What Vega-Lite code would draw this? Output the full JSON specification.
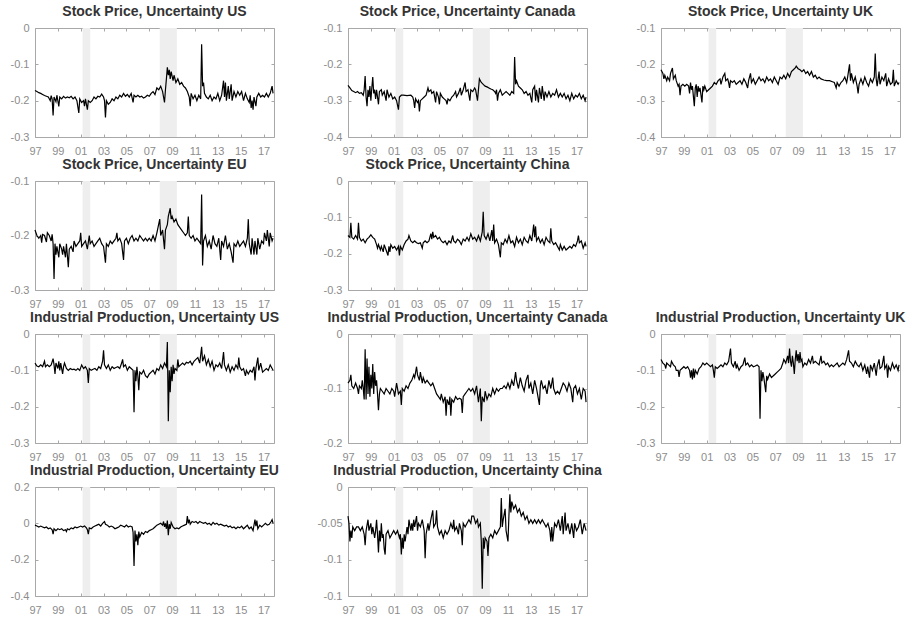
{
"$schema":"https://vega.github.io/schema/vega-lite/v6.json",
"background":"white",
"padding":{"left":10,"top":5,"right":5,"bottom":5},
"config":{
 "view":{"stroke":null},
 "font":"Liberation Sans",
 "locale":{"number":{"decimal":".","thousands":",","grouping":[3],"currency":["$",""],"minus":"-"}},
 "axis":{"grid":false,"domainColor":"#a8a8a8","tickColor":"#a8a8a8","tickSize":-3,"labelColor":"#8c8c8c","labelFontSize":11,"labelFont":"Liberation Sans","labelOverlap":false,"labelFlush":false},
 "title":{"fontSize":14,"fontWeight":"bold","color":"#333333","offset":3,"frame":"group","anchor":"middle","font":"Liberation Sans"},
 "line":{"color":"#000000","strokeWidth":1.2},
 "rect":{"color":"#eeeeee"}
},
"datasets":{
"rec":[{"a":50,"b":58},{"a":131,"b":149}],
"spus":[{"m":0,"v":-0.172},{"m":2,"v":-0.175},{"m":4,"v":-0.178},{"m":6,"v":-0.18},{"m":8,"v":-0.183},{"m":10,"v":-0.186},{"m":12,"v":-0.188},{"m":14,"v":-0.19},{"m":16,"v":-0.2},{"m":17,"v":-0.186},{"m":18,"v":-0.196},{"m":19,"v":-0.241},{"m":20,"v":-0.19},{"m":22,"v":-0.203},{"m":23,"v":-0.185},{"m":25,"v":-0.216},{"m":26,"v":-0.19},{"m":28,"v":-0.195},{"m":30,"v":-0.188},{"m":32,"v":-0.193},{"m":34,"v":-0.19},{"m":36,"v":-0.192},{"m":38,"v":-0.188},{"m":40,"v":-0.195},{"m":42,"v":-0.19},{"m":44,"v":-0.2},{"m":46,"v":-0.234},{"m":47,"v":-0.195},{"m":49,"v":-0.205},{"m":51,"v":-0.2},{"m":52,"v":-0.215},{"m":53,"v":-0.195},{"m":55,"v":-0.225},{"m":56,"v":-0.2},{"m":58,"v":-0.205},{"m":60,"v":-0.2},{"m":62,"v":-0.19},{"m":64,"v":-0.195},{"m":66,"v":-0.188},{"m":68,"v":-0.19},{"m":70,"v":-0.182},{"m":72,"v":-0.19},{"m":73,"v":-0.2},{"m":74,"v":-0.246},{"m":75,"v":-0.2},{"m":77,"v":-0.21},{"m":79,"v":-0.205},{"m":81,"v":-0.195},{"m":83,"v":-0.2},{"m":85,"v":-0.19},{"m":87,"v":-0.195},{"m":89,"v":-0.185},{"m":91,"v":-0.19},{"m":93,"v":-0.18},{"m":95,"v":-0.188},{"m":97,"v":-0.183},{"m":99,"v":-0.19},{"m":101,"v":-0.18},{"m":103,"v":-0.205},{"m":104,"v":-0.185},{"m":106,"v":-0.19},{"m":108,"v":-0.185},{"m":110,"v":-0.19},{"m":112,"v":-0.188},{"m":114,"v":-0.193},{"m":116,"v":-0.19},{"m":118,"v":-0.185},{"m":120,"v":-0.188},{"m":122,"v":-0.18},{"m":124,"v":-0.175},{"m":126,"v":-0.183},{"m":128,"v":-0.165},{"m":130,"v":-0.17},{"m":132,"v":-0.16},{"m":134,"v":-0.175},{"m":136,"v":-0.205},{"m":137,"v":-0.17},{"m":138,"v":-0.14},{"m":139,"v":-0.108},{"m":140,"v":-0.13},{"m":141,"v":-0.115},{"m":142,"v":-0.14},{"m":143,"v":-0.12},{"m":145,"v":-0.145},{"m":146,"v":-0.13},{"m":148,"v":-0.15},{"m":150,"v":-0.14},{"m":152,"v":-0.155},{"m":154,"v":-0.15},{"m":156,"v":-0.16},{"m":158,"v":-0.165},{"m":160,"v":-0.175},{"m":162,"v":-0.19},{"m":163,"v":-0.215},{"m":164,"v":-0.18},{"m":166,"v":-0.195},{"m":168,"v":-0.185},{"m":170,"v":-0.2},{"m":172,"v":-0.185},{"m":174,"v":-0.195},{"m":175,"v":-0.045},{"m":176,"v":-0.16},{"m":177,"v":-0.15},{"m":178,"v":-0.18},{"m":180,"v":-0.19},{"m":182,"v":-0.195},{"m":184,"v":-0.185},{"m":186,"v":-0.2},{"m":188,"v":-0.19},{"m":190,"v":-0.195},{"m":192,"v":-0.18},{"m":194,"v":-0.2},{"m":196,"v":-0.185},{"m":198,"v":-0.145},{"m":199,"v":-0.19},{"m":200,"v":-0.15},{"m":201,"v":-0.2},{"m":203,"v":-0.16},{"m":204,"v":-0.195},{"m":206,"v":-0.155},{"m":207,"v":-0.2},{"m":209,"v":-0.175},{"m":211,"v":-0.19},{"m":213,"v":-0.175},{"m":215,"v":-0.185},{"m":217,"v":-0.175},{"m":219,"v":-0.2},{"m":221,"v":-0.18},{"m":223,"v":-0.195},{"m":225,"v":-0.205},{"m":226,"v":-0.185},{"m":227,"v":-0.22},{"m":228,"v":-0.2},{"m":229,"v":-0.225},{"m":230,"v":-0.19},{"m":232,"v":-0.215},{"m":233,"v":-0.19},{"m":235,"v":-0.18},{"m":237,"v":-0.19},{"m":239,"v":-0.185},{"m":241,"v":-0.19},{"m":243,"v":-0.18},{"m":245,"v":-0.19},{"m":247,"v":-0.18},{"m":249,"v":-0.16},{"m":250,"v":-0.18}],
"spca":[{"m":0,"v":-0.258},{"m":2,"v":-0.265},{"m":4,"v":-0.272},{"m":6,"v":-0.275},{"m":8,"v":-0.278},{"m":10,"v":-0.275},{"m":12,"v":-0.28},{"m":14,"v":-0.278},{"m":16,"v":-0.285},{"m":17,"v":-0.27},{"m":18,"v":-0.232},{"m":19,"v":-0.29},{"m":20,"v":-0.315},{"m":21,"v":-0.27},{"m":22,"v":-0.29},{"m":23,"v":-0.26},{"m":24,"v":-0.3},{"m":25,"v":-0.265},{"m":26,"v":-0.235},{"m":27,"v":-0.28},{"m":28,"v":-0.27},{"m":29,"v":-0.295},{"m":30,"v":-0.27},{"m":32,"v":-0.31},{"m":33,"v":-0.275},{"m":35,"v":-0.27},{"m":36,"v":-0.285},{"m":38,"v":-0.275},{"m":40,"v":-0.3},{"m":41,"v":-0.27},{"m":43,"v":-0.29},{"m":45,"v":-0.28},{"m":47,"v":-0.295},{"m":49,"v":-0.29},{"m":51,"v":-0.3},{"m":53,"v":-0.325},{"m":54,"v":-0.29},{"m":56,"v":-0.285},{"m":58,"v":-0.285},{"m":62,"v":-0.286},{"m":66,"v":-0.285},{"m":68,"v":-0.29},{"m":69,"v":-0.3},{"m":70,"v":-0.32},{"m":71,"v":-0.295},{"m":73,"v":-0.305},{"m":74,"v":-0.3},{"m":75,"v":-0.33},{"m":76,"v":-0.3},{"m":78,"v":-0.295},{"m":80,"v":-0.29},{"m":82,"v":-0.285},{"m":84,"v":-0.265},{"m":85,"v":-0.275},{"m":87,"v":-0.27},{"m":88,"v":-0.28},{"m":90,"v":-0.275},{"m":92,"v":-0.305},{"m":93,"v":-0.275},{"m":95,"v":-0.29},{"m":96,"v":-0.31},{"m":97,"v":-0.28},{"m":99,"v":-0.29},{"m":101,"v":-0.295},{"m":103,"v":-0.3},{"m":104,"v":-0.31},{"m":105,"v":-0.295},{"m":107,"v":-0.3},{"m":109,"v":-0.29},{"m":111,"v":-0.285},{"m":113,"v":-0.275},{"m":114,"v":-0.29},{"m":116,"v":-0.28},{"m":118,"v":-0.265},{"m":119,"v":-0.285},{"m":121,"v":-0.27},{"m":123,"v":-0.25},{"m":124,"v":-0.275},{"m":126,"v":-0.27},{"m":127,"v":-0.285},{"m":128,"v":-0.3},{"m":129,"v":-0.27},{"m":131,"v":-0.275},{"m":133,"v":-0.265},{"m":134,"v":-0.27},{"m":136,"v":-0.3},{"m":138,"v":-0.24},{"m":140,"v":-0.25},{"m":142,"v":-0.255},{"m":144,"v":-0.26},{"m":146,"v":-0.262},{"m":148,"v":-0.265},{"m":150,"v":-0.268},{"m":152,"v":-0.27},{"m":154,"v":-0.275},{"m":155,"v":-0.28},{"m":156,"v":-0.27},{"m":157,"v":-0.3},{"m":158,"v":-0.28},{"m":160,"v":-0.27},{"m":162,"v":-0.285},{"m":164,"v":-0.28},{"m":166,"v":-0.275},{"m":168,"v":-0.28},{"m":170,"v":-0.285},{"m":172,"v":-0.275},{"m":174,"v":-0.28},{"m":175,"v":-0.18},{"m":176,"v":-0.255},{"m":177,"v":-0.245},{"m":179,"v":-0.26},{"m":181,"v":-0.265},{"m":183,"v":-0.27},{"m":185,"v":-0.28},{"m":187,"v":-0.275},{"m":189,"v":-0.285},{"m":191,"v":-0.28},{"m":193,"v":-0.305},{"m":194,"v":-0.27},{"m":196,"v":-0.26},{"m":197,"v":-0.3},{"m":198,"v":-0.27},{"m":200,"v":-0.305},{"m":201,"v":-0.265},{"m":203,"v":-0.295},{"m":204,"v":-0.26},{"m":206,"v":-0.3},{"m":207,"v":-0.275},{"m":209,"v":-0.29},{"m":211,"v":-0.275},{"m":213,"v":-0.29},{"m":215,"v":-0.28},{"m":217,"v":-0.285},{"m":219,"v":-0.27},{"m":221,"v":-0.29},{"m":223,"v":-0.28},{"m":225,"v":-0.29},{"m":227,"v":-0.28},{"m":229,"v":-0.295},{"m":231,"v":-0.285},{"m":233,"v":-0.3},{"m":235,"v":-0.28},{"m":237,"v":-0.295},{"m":239,"v":-0.285},{"m":241,"v":-0.29},{"m":243,"v":-0.28},{"m":245,"v":-0.295},{"m":247,"v":-0.285},{"m":249,"v":-0.3},{"m":250,"v":-0.29}],
"spuk":[{"m":0,"v":-0.215},{"m":2,"v":-0.225},{"m":3,"v":-0.24},{"m":4,"v":-0.23},{"m":6,"v":-0.245},{"m":7,"v":-0.235},{"m":9,"v":-0.245},{"m":10,"v":-0.225},{"m":12,"v":-0.21},{"m":13,"v":-0.24},{"m":15,"v":-0.23},{"m":16,"v":-0.245},{"m":18,"v":-0.26},{"m":19,"v":-0.255},{"m":20,"v":-0.285},{"m":21,"v":-0.26},{"m":23,"v":-0.255},{"m":25,"v":-0.26},{"m":27,"v":-0.255},{"m":29,"v":-0.26},{"m":30,"v":-0.28},{"m":31,"v":-0.25},{"m":32,"v":-0.27},{"m":33,"v":-0.26},{"m":35,"v":-0.315},{"m":36,"v":-0.265},{"m":37,"v":-0.255},{"m":38,"v":-0.29},{"m":39,"v":-0.26},{"m":40,"v":-0.275},{"m":41,"v":-0.265},{"m":43,"v":-0.305},{"m":44,"v":-0.26},{"m":45,"v":-0.27},{"m":46,"v":-0.26},{"m":48,"v":-0.275},{"m":50,"v":-0.27},{"m":52,"v":-0.265},{"m":54,"v":-0.26},{"m":56,"v":-0.25},{"m":58,"v":-0.255},{"m":60,"v":-0.245},{"m":62,"v":-0.24},{"m":63,"v":-0.255},{"m":65,"v":-0.235},{"m":67,"v":-0.225},{"m":68,"v":-0.245},{"m":70,"v":-0.24},{"m":71,"v":-0.25},{"m":72,"v":-0.265},{"m":73,"v":-0.245},{"m":75,"v":-0.25},{"m":77,"v":-0.245},{"m":79,"v":-0.255},{"m":81,"v":-0.25},{"m":83,"v":-0.245},{"m":85,"v":-0.255},{"m":87,"v":-0.24},{"m":89,"v":-0.25},{"m":91,"v":-0.265},{"m":92,"v":-0.245},{"m":94,"v":-0.225},{"m":95,"v":-0.25},{"m":97,"v":-0.24},{"m":99,"v":-0.255},{"m":101,"v":-0.245},{"m":103,"v":-0.235},{"m":105,"v":-0.245},{"m":107,"v":-0.24},{"m":109,"v":-0.25},{"m":111,"v":-0.235},{"m":113,"v":-0.245},{"m":115,"v":-0.24},{"m":117,"v":-0.25},{"m":119,"v":-0.235},{"m":121,"v":-0.245},{"m":123,"v":-0.255},{"m":125,"v":-0.235},{"m":127,"v":-0.24},{"m":129,"v":-0.23},{"m":131,"v":-0.24},{"m":133,"v":-0.225},{"m":135,"v":-0.235},{"m":137,"v":-0.22},{"m":139,"v":-0.215},{"m":141,"v":-0.21},{"m":142,"v":-0.205},{"m":144,"v":-0.212},{"m":146,"v":-0.215},{"m":148,"v":-0.22},{"m":150,"v":-0.215},{"m":152,"v":-0.225},{"m":154,"v":-0.22},{"m":156,"v":-0.23},{"m":158,"v":-0.22},{"m":160,"v":-0.235},{"m":162,"v":-0.23},{"m":164,"v":-0.24},{"m":166,"v":-0.235},{"m":168,"v":-0.24},{"m":171,"v":-0.243},{"m":174,"v":-0.245},{"m":177,"v":-0.245},{"m":180,"v":-0.248},{"m":182,"v":-0.25},{"m":184,"v":-0.265},{"m":185,"v":-0.25},{"m":187,"v":-0.26},{"m":189,"v":-0.25},{"m":191,"v":-0.245},{"m":193,"v":-0.235},{"m":195,"v":-0.25},{"m":196,"v":-0.235},{"m":198,"v":-0.2},{"m":199,"v":-0.245},{"m":200,"v":-0.225},{"m":202,"v":-0.25},{"m":204,"v":-0.235},{"m":206,"v":-0.26},{"m":207,"v":-0.28},{"m":208,"v":-0.255},{"m":210,"v":-0.24},{"m":212,"v":-0.255},{"m":214,"v":-0.235},{"m":216,"v":-0.25},{"m":218,"v":-0.26},{"m":220,"v":-0.24},{"m":222,"v":-0.25},{"m":224,"v":-0.235},{"m":225,"v":-0.17},{"m":226,"v":-0.24},{"m":227,"v":-0.26},{"m":229,"v":-0.22},{"m":230,"v":-0.255},{"m":232,"v":-0.235},{"m":234,"v":-0.245},{"m":236,"v":-0.225},{"m":237,"v":-0.26},{"m":239,"v":-0.24},{"m":241,"v":-0.255},{"m":243,"v":-0.25},{"m":244,"v":-0.215},{"m":245,"v":-0.26},{"m":247,"v":-0.245},{"m":249,"v":-0.255},{"m":250,"v":-0.25}],
"speu":[{"m":0,"v":-0.19},{"m":2,"v":-0.2},{"m":4,"v":-0.205},{"m":6,"v":-0.2},{"m":7,"v":-0.213},{"m":8,"v":-0.198},{"m":10,"v":-0.2},{"m":12,"v":-0.212},{"m":13,"v":-0.195},{"m":15,"v":-0.2},{"m":17,"v":-0.21},{"m":18,"v":-0.198},{"m":19,"v":-0.215},{"m":20,"v":-0.28},{"m":21,"v":-0.215},{"m":22,"v":-0.235},{"m":23,"v":-0.22},{"m":25,"v":-0.24},{"m":26,"v":-0.215},{"m":28,"v":-0.225},{"m":29,"v":-0.235},{"m":30,"v":-0.22},{"m":32,"v":-0.24},{"m":33,"v":-0.215},{"m":35,"v":-0.258},{"m":36,"v":-0.225},{"m":38,"v":-0.22},{"m":40,"v":-0.23},{"m":41,"v":-0.21},{"m":43,"v":-0.22},{"m":45,"v":-0.215},{"m":47,"v":-0.21},{"m":48,"v":-0.195},{"m":49,"v":-0.22},{"m":51,"v":-0.215},{"m":53,"v":-0.21},{"m":55,"v":-0.225},{"m":57,"v":-0.2},{"m":58,"v":-0.215},{"m":60,"v":-0.21},{"m":62,"v":-0.22},{"m":64,"v":-0.215},{"m":66,"v":-0.21},{"m":68,"v":-0.205},{"m":70,"v":-0.215},{"m":72,"v":-0.22},{"m":74,"v":-0.25},{"m":75,"v":-0.215},{"m":77,"v":-0.22},{"m":79,"v":-0.21},{"m":81,"v":-0.215},{"m":83,"v":-0.21},{"m":85,"v":-0.205},{"m":86,"v":-0.195},{"m":87,"v":-0.21},{"m":89,"v":-0.205},{"m":91,"v":-0.215},{"m":93,"v":-0.245},{"m":94,"v":-0.21},{"m":96,"v":-0.205},{"m":98,"v":-0.215},{"m":100,"v":-0.205},{"m":102,"v":-0.2},{"m":104,"v":-0.21},{"m":106,"v":-0.205},{"m":108,"v":-0.21},{"m":110,"v":-0.2},{"m":112,"v":-0.205},{"m":114,"v":-0.21},{"m":116,"v":-0.205},{"m":118,"v":-0.21},{"m":120,"v":-0.205},{"m":122,"v":-0.21},{"m":124,"v":-0.2},{"m":126,"v":-0.21},{"m":128,"v":-0.195},{"m":131,"v":-0.17},{"m":132,"v":-0.2},{"m":134,"v":-0.19},{"m":136,"v":-0.225},{"m":137,"v":-0.19},{"m":139,"v":-0.18},{"m":140,"v":-0.165},{"m":142,"v":-0.15},{"m":143,"v":-0.17},{"m":144,"v":-0.165},{"m":146,"v":-0.175},{"m":148,"v":-0.17},{"m":150,"v":-0.18},{"m":152,"v":-0.185},{"m":154,"v":-0.19},{"m":156,"v":-0.195},{"m":158,"v":-0.2},{"m":160,"v":-0.195},{"m":161,"v":-0.165},{"m":162,"v":-0.2},{"m":164,"v":-0.205},{"m":166,"v":-0.2},{"m":168,"v":-0.21},{"m":170,"v":-0.205},{"m":172,"v":-0.21},{"m":174,"v":-0.215},{"m":175,"v":-0.125},{"m":176,"v":-0.255},{"m":177,"v":-0.21},{"m":179,"v":-0.2},{"m":181,"v":-0.22},{"m":183,"v":-0.21},{"m":185,"v":-0.225},{"m":187,"v":-0.2},{"m":189,"v":-0.215},{"m":191,"v":-0.22},{"m":193,"v":-0.205},{"m":195,"v":-0.245},{"m":196,"v":-0.21},{"m":198,"v":-0.22},{"m":200,"v":-0.2},{"m":202,"v":-0.225},{"m":204,"v":-0.215},{"m":206,"v":-0.23},{"m":208,"v":-0.25},{"m":209,"v":-0.215},{"m":211,"v":-0.22},{"m":213,"v":-0.21},{"m":215,"v":-0.22},{"m":217,"v":-0.215},{"m":219,"v":-0.21},{"m":221,"v":-0.22},{"m":223,"v":-0.205},{"m":224,"v":-0.17},{"m":225,"v":-0.215},{"m":227,"v":-0.235},{"m":228,"v":-0.205},{"m":230,"v":-0.235},{"m":231,"v":-0.21},{"m":233,"v":-0.235},{"m":234,"v":-0.205},{"m":236,"v":-0.225},{"m":238,"v":-0.21},{"m":240,"v":-0.215},{"m":241,"v":-0.195},{"m":243,"v":-0.21},{"m":244,"v":-0.19},{"m":246,"v":-0.22},{"m":247,"v":-0.195},{"m":249,"v":-0.21},{"m":250,"v":-0.205}],
"spcn":[{"m":0,"v":-0.15},{"m":2,"v":-0.155},{"m":3,"v":-0.115},{"m":4,"v":-0.155},{"m":6,"v":-0.16},{"m":8,"v":-0.15},{"m":10,"v":-0.16},{"m":11,"v":-0.115},{"m":12,"v":-0.155},{"m":14,"v":-0.165},{"m":16,"v":-0.16},{"m":18,"v":-0.17},{"m":20,"v":-0.16},{"m":22,"v":-0.155},{"m":24,"v":-0.148},{"m":26,"v":-0.155},{"m":28,"v":-0.16},{"m":30,"v":-0.175},{"m":31,"v":-0.185},{"m":32,"v":-0.175},{"m":34,"v":-0.19},{"m":35,"v":-0.18},{"m":37,"v":-0.195},{"m":38,"v":-0.175},{"m":40,"v":-0.19},{"m":42,"v":-0.205},{"m":43,"v":-0.18},{"m":44,"v":-0.195},{"m":45,"v":-0.175},{"m":47,"v":-0.185},{"m":49,"v":-0.18},{"m":51,"v":-0.19},{"m":53,"v":-0.18},{"m":54,"v":-0.205},{"m":55,"v":-0.18},{"m":57,"v":-0.19},{"m":59,"v":-0.175},{"m":61,"v":-0.165},{"m":63,"v":-0.16},{"m":64,"v":-0.15},{"m":66,"v":-0.165},{"m":68,"v":-0.17},{"m":70,"v":-0.165},{"m":72,"v":-0.17},{"m":74,"v":-0.172},{"m":76,"v":-0.17},{"m":78,"v":-0.185},{"m":79,"v":-0.17},{"m":81,"v":-0.165},{"m":83,"v":-0.17},{"m":85,"v":-0.165},{"m":87,"v":-0.145},{"m":88,"v":-0.16},{"m":89,"v":-0.14},{"m":90,"v":-0.155},{"m":92,"v":-0.15},{"m":94,"v":-0.16},{"m":96,"v":-0.155},{"m":98,"v":-0.165},{"m":100,"v":-0.17},{"m":102,"v":-0.165},{"m":104,"v":-0.175},{"m":106,"v":-0.165},{"m":108,"v":-0.17},{"m":110,"v":-0.15},{"m":111,"v":-0.165},{"m":113,"v":-0.17},{"m":115,"v":-0.16},{"m":117,"v":-0.165},{"m":119,"v":-0.175},{"m":121,"v":-0.16},{"m":123,"v":-0.165},{"m":125,"v":-0.155},{"m":127,"v":-0.165},{"m":129,"v":-0.145},{"m":131,"v":-0.16},{"m":133,"v":-0.155},{"m":135,"v":-0.165},{"m":137,"v":-0.15},{"m":139,"v":-0.165},{"m":141,"v":-0.14},{"m":142,"v":-0.085},{"m":143,"v":-0.15},{"m":145,"v":-0.16},{"m":147,"v":-0.145},{"m":149,"v":-0.165},{"m":151,"v":-0.135},{"m":152,"v":-0.165},{"m":153,"v":-0.12},{"m":154,"v":-0.17},{"m":156,"v":-0.16},{"m":158,"v":-0.175},{"m":160,"v":-0.21},{"m":161,"v":-0.17},{"m":163,"v":-0.175},{"m":165,"v":-0.16},{"m":167,"v":-0.17},{"m":169,"v":-0.15},{"m":171,"v":-0.17},{"m":173,"v":-0.165},{"m":175,"v":-0.18},{"m":177,"v":-0.155},{"m":179,"v":-0.17},{"m":181,"v":-0.16},{"m":183,"v":-0.175},{"m":185,"v":-0.155},{"m":187,"v":-0.165},{"m":189,"v":-0.17},{"m":191,"v":-0.15},{"m":193,"v":-0.165},{"m":195,"v":-0.12},{"m":196,"v":-0.155},{"m":197,"v":-0.125},{"m":198,"v":-0.165},{"m":200,"v":-0.155},{"m":202,"v":-0.17},{"m":204,"v":-0.16},{"m":206,"v":-0.175},{"m":208,"v":-0.155},{"m":210,"v":-0.165},{"m":212,"v":-0.17},{"m":213,"v":-0.13},{"m":214,"v":-0.165},{"m":216,"v":-0.175},{"m":218,"v":-0.17},{"m":220,"v":-0.18},{"m":222,"v":-0.19},{"m":223,"v":-0.175},{"m":225,"v":-0.19},{"m":227,"v":-0.18},{"m":229,"v":-0.19},{"m":231,"v":-0.185},{"m":233,"v":-0.18},{"m":235,"v":-0.185},{"m":237,"v":-0.175},{"m":239,"v":-0.18},{"m":241,"v":-0.165},{"m":242,"v":-0.15},{"m":243,"v":-0.17},{"m":245,"v":-0.165},{"m":247,"v":-0.185},{"m":249,"v":-0.17},{"m":250,"v":-0.18}],
"ipus":[{"m":0,"v":-0.08},{"m":2,"v":-0.088},{"m":4,"v":-0.09},{"m":6,"v":-0.085},{"m":8,"v":-0.09},{"m":10,"v":-0.075},{"m":11,"v":-0.09},{"m":13,"v":-0.085},{"m":15,"v":-0.09},{"m":17,"v":-0.085},{"m":19,"v":-0.068},{"m":20,"v":-0.085},{"m":21,"v":-0.11},{"m":22,"v":-0.08},{"m":24,"v":-0.095},{"m":25,"v":-0.075},{"m":26,"v":-0.1},{"m":27,"v":-0.08},{"m":29,"v":-0.11},{"m":30,"v":-0.09},{"m":31,"v":-0.08},{"m":33,"v":-0.095},{"m":35,"v":-0.1},{"m":37,"v":-0.095},{"m":39,"v":-0.098},{"m":41,"v":-0.097},{"m":43,"v":-0.1},{"m":45,"v":-0.095},{"m":47,"v":-0.1},{"m":49,"v":-0.085},{"m":51,"v":-0.095},{"m":53,"v":-0.09},{"m":55,"v":-0.1},{"m":56,"v":-0.135},{"m":57,"v":-0.095},{"m":59,"v":-0.1},{"m":61,"v":-0.097},{"m":63,"v":-0.095},{"m":65,"v":-0.1},{"m":67,"v":-0.09},{"m":69,"v":-0.095},{"m":71,"v":-0.075},{"m":72,"v":-0.045},{"m":73,"v":-0.085},{"m":75,"v":-0.095},{"m":77,"v":-0.085},{"m":79,"v":-0.1},{"m":81,"v":-0.09},{"m":83,"v":-0.095},{"m":85,"v":-0.092},{"m":87,"v":-0.09},{"m":89,"v":-0.095},{"m":91,"v":-0.08},{"m":92,"v":-0.07},{"m":93,"v":-0.09},{"m":95,"v":-0.085},{"m":97,"v":-0.1},{"m":99,"v":-0.09},{"m":101,"v":-0.095},{"m":103,"v":-0.1},{"m":104,"v":-0.215},{"m":105,"v":-0.1},{"m":106,"v":-0.13},{"m":107,"v":-0.09},{"m":108,"v":-0.115},{"m":109,"v":-0.155},{"m":110,"v":-0.105},{"m":112,"v":-0.11},{"m":114,"v":-0.1},{"m":116,"v":-0.115},{"m":118,"v":-0.12},{"m":120,"v":-0.11},{"m":122,"v":-0.105},{"m":124,"v":-0.1},{"m":126,"v":-0.11},{"m":128,"v":-0.095},{"m":130,"v":-0.1},{"m":132,"v":-0.085},{"m":134,"v":-0.095},{"m":136,"v":-0.08},{"m":138,"v":-0.09},{"m":139,"v":-0.022},{"m":140,"v":-0.24},{"m":141,"v":-0.1},{"m":142,"v":-0.16},{"m":143,"v":-0.09},{"m":144,"v":-0.13},{"m":145,"v":-0.085},{"m":146,"v":-0.11},{"m":147,"v":-0.095},{"m":149,"v":-0.1},{"m":150,"v":-0.07},{"m":151,"v":-0.09},{"m":153,"v":-0.085},{"m":155,"v":-0.08},{"m":157,"v":-0.085},{"m":159,"v":-0.078},{"m":161,"v":-0.08},{"m":163,"v":-0.075},{"m":165,"v":-0.085},{"m":167,"v":-0.075},{"m":169,"v":-0.07},{"m":171,"v":-0.065},{"m":173,"v":-0.08},{"m":175,"v":-0.035},{"m":176,"v":-0.075},{"m":178,"v":-0.06},{"m":180,"v":-0.085},{"m":182,"v":-0.07},{"m":184,"v":-0.09},{"m":186,"v":-0.075},{"m":188,"v":-0.1},{"m":190,"v":-0.085},{"m":192,"v":-0.09},{"m":194,"v":-0.08},{"m":196,"v":-0.095},{"m":198,"v":-0.05},{"m":199,"v":-0.085},{"m":201,"v":-0.1},{"m":203,"v":-0.085},{"m":205,"v":-0.105},{"m":207,"v":-0.09},{"m":209,"v":-0.1},{"m":211,"v":-0.085},{"m":213,"v":-0.095},{"m":214,"v":-0.065},{"m":215,"v":-0.09},{"m":217,"v":-0.1},{"m":219,"v":-0.095},{"m":221,"v":-0.115},{"m":222,"v":-0.1},{"m":224,"v":-0.11},{"m":226,"v":-0.1},{"m":228,"v":-0.105},{"m":230,"v":-0.09},{"m":231,"v":-0.128},{"m":232,"v":-0.095},{"m":234,"v":-0.065},{"m":235,"v":-0.1},{"m":237,"v":-0.08},{"m":239,"v":-0.105},{"m":241,"v":-0.1},{"m":243,"v":-0.095},{"m":245,"v":-0.1},{"m":247,"v":-0.085},{"m":249,"v":-0.095},{"m":250,"v":-0.1}],
"ipca":[{"m":0,"v":-0.09},{"m":2,"v":-0.085},{"m":3,"v":-0.075},{"m":4,"v":-0.095},{"m":6,"v":-0.1},{"m":8,"v":-0.09},{"m":10,"v":-0.1},{"m":11,"v":-0.11},{"m":12,"v":-0.095},{"m":14,"v":-0.1},{"m":15,"v":-0.085},{"m":16,"v":-0.1},{"m":17,"v":-0.12},{"m":18,"v":-0.028},{"m":19,"v":-0.12},{"m":20,"v":-0.045},{"m":21,"v":-0.11},{"m":22,"v":-0.06},{"m":23,"v":-0.115},{"m":24,"v":-0.075},{"m":25,"v":-0.1},{"m":26,"v":-0.055},{"m":27,"v":-0.11},{"m":28,"v":-0.07},{"m":29,"v":-0.095},{"m":30,"v":-0.085},{"m":31,"v":-0.11},{"m":32,"v":-0.14},{"m":33,"v":-0.11},{"m":34,"v":-0.1},{"m":36,"v":-0.105},{"m":38,"v":-0.11},{"m":40,"v":-0.1},{"m":42,"v":-0.105},{"m":44,"v":-0.11},{"m":46,"v":-0.1},{"m":48,"v":-0.105},{"m":49,"v":-0.115},{"m":51,"v":-0.09},{"m":53,"v":-0.11},{"m":55,"v":-0.105},{"m":56,"v":-0.13},{"m":57,"v":-0.1},{"m":59,"v":-0.105},{"m":61,"v":-0.095},{"m":63,"v":-0.1},{"m":65,"v":-0.09},{"m":67,"v":-0.085},{"m":69,"v":-0.075},{"m":70,"v":-0.08},{"m":72,"v":-0.06},{"m":73,"v":-0.075},{"m":75,"v":-0.085},{"m":76,"v":-0.07},{"m":78,"v":-0.09},{"m":79,"v":-0.08},{"m":81,"v":-0.09},{"m":83,"v":-0.085},{"m":85,"v":-0.09},{"m":87,"v":-0.095},{"m":89,"v":-0.09},{"m":91,"v":-0.1},{"m":93,"v":-0.11},{"m":95,"v":-0.115},{"m":97,"v":-0.12},{"m":98,"v":-0.11},{"m":100,"v":-0.125},{"m":102,"v":-0.115},{"m":103,"v":-0.15},{"m":104,"v":-0.12},{"m":106,"v":-0.13},{"m":107,"v":-0.115},{"m":108,"v":-0.15},{"m":109,"v":-0.12},{"m":111,"v":-0.125},{"m":113,"v":-0.115},{"m":115,"v":-0.12},{"m":117,"v":-0.118},{"m":119,"v":-0.12},{"m":120,"v":-0.145},{"m":121,"v":-0.115},{"m":123,"v":-0.11},{"m":125,"v":-0.105},{"m":127,"v":-0.1},{"m":129,"v":-0.105},{"m":131,"v":-0.1},{"m":133,"v":-0.11},{"m":135,"v":-0.095},{"m":137,"v":-0.125},{"m":139,"v":-0.1},{"m":140,"v":-0.16},{"m":141,"v":-0.115},{"m":143,"v":-0.125},{"m":144,"v":-0.105},{"m":146,"v":-0.12},{"m":148,"v":-0.11},{"m":150,"v":-0.115},{"m":152,"v":-0.1},{"m":154,"v":-0.11},{"m":156,"v":-0.1},{"m":158,"v":-0.105},{"m":160,"v":-0.1},{"m":162,"v":-0.1},{"m":164,"v":-0.095},{"m":166,"v":-0.1},{"m":168,"v":-0.09},{"m":170,"v":-0.1},{"m":172,"v":-0.085},{"m":174,"v":-0.095},{"m":176,"v":-0.07},{"m":177,"v":-0.085},{"m":179,"v":-0.1},{"m":181,"v":-0.08},{"m":183,"v":-0.095},{"m":185,"v":-0.105},{"m":187,"v":-0.085},{"m":189,"v":-0.075},{"m":190,"v":-0.1},{"m":192,"v":-0.09},{"m":194,"v":-0.11},{"m":196,"v":-0.085},{"m":198,"v":-0.1},{"m":201,"v":-0.13},{"m":202,"v":-0.095},{"m":203,"v":-0.085},{"m":205,"v":-0.1},{"m":207,"v":-0.095},{"m":209,"v":-0.11},{"m":211,"v":-0.085},{"m":213,"v":-0.1},{"m":215,"v":-0.08},{"m":216,"v":-0.1},{"m":218,"v":-0.11},{"m":220,"v":-0.105},{"m":222,"v":-0.11},{"m":224,"v":-0.1},{"m":226,"v":-0.09},{"m":228,"v":-0.095},{"m":230,"v":-0.105},{"m":232,"v":-0.09},{"m":234,"v":-0.1},{"m":236,"v":-0.125},{"m":237,"v":-0.1},{"m":239,"v":-0.095},{"m":241,"v":-0.11},{"m":243,"v":-0.1},{"m":245,"v":-0.12},{"m":247,"v":-0.1},{"m":249,"v":-0.105},{"m":250,"v":-0.125}],
"ipuk":[{"m":0,"v":-0.07},{"m":2,"v":-0.08},{"m":4,"v":-0.085},{"m":5,"v":-0.095},{"m":6,"v":-0.08},{"m":8,"v":-0.085},{"m":10,"v":-0.09},{"m":11,"v":-0.075},{"m":13,"v":-0.085},{"m":15,"v":-0.09},{"m":16,"v":-0.1},{"m":18,"v":-0.1},{"m":19,"v":-0.118},{"m":20,"v":-0.1},{"m":22,"v":-0.095},{"m":24,"v":-0.09},{"m":26,"v":-0.095},{"m":28,"v":-0.09},{"m":30,"v":-0.1},{"m":31,"v":-0.12},{"m":32,"v":-0.1},{"m":33,"v":-0.125},{"m":34,"v":-0.095},{"m":35,"v":-0.12},{"m":36,"v":-0.1},{"m":38,"v":-0.11},{"m":40,"v":-0.095},{"m":42,"v":-0.09},{"m":44,"v":-0.08},{"m":46,"v":-0.085},{"m":48,"v":-0.08},{"m":50,"v":-0.085},{"m":52,"v":-0.09},{"m":54,"v":-0.085},{"m":55,"v":-0.1},{"m":56,"v":-0.12},{"m":57,"v":-0.09},{"m":59,"v":-0.095},{"m":61,"v":-0.09},{"m":63,"v":-0.085},{"m":65,"v":-0.09},{"m":67,"v":-0.08},{"m":69,"v":-0.085},{"m":71,"v":-0.075},{"m":73,"v":-0.04},{"m":74,"v":-0.08},{"m":76,"v":-0.09},{"m":78,"v":-0.075},{"m":79,"v":-0.095},{"m":80,"v":-0.085},{"m":82,"v":-0.1},{"m":84,"v":-0.09},{"m":86,"v":-0.085},{"m":88,"v":-0.065},{"m":89,"v":-0.085},{"m":91,"v":-0.08},{"m":93,"v":-0.09},{"m":95,"v":-0.085},{"m":97,"v":-0.09},{"m":99,"v":-0.088},{"m":101,"v":-0.085},{"m":103,"v":-0.09},{"m":104,"v":-0.233},{"m":105,"v":-0.1},{"m":106,"v":-0.13},{"m":107,"v":-0.105},{"m":108,"v":-0.12},{"m":110,"v":-0.16},{"m":111,"v":-0.115},{"m":112,"v":-0.125},{"m":114,"v":-0.11},{"m":116,"v":-0.12},{"m":118,"v":-0.115},{"m":120,"v":-0.11},{"m":122,"v":-0.105},{"m":124,"v":-0.1},{"m":126,"v":-0.095},{"m":128,"v":-0.08},{"m":129,"v":-0.07},{"m":131,"v":-0.08},{"m":133,"v":-0.06},{"m":134,"v":-0.08},{"m":135,"v":-0.04},{"m":136,"v":-0.075},{"m":137,"v":-0.09},{"m":138,"v":-0.06},{"m":139,"v":-0.08},{"m":140,"v":-0.11},{"m":141,"v":-0.07},{"m":142,"v":-0.045},{"m":143,"v":-0.075},{"m":144,"v":-0.055},{"m":145,"v":-0.08},{"m":146,"v":-0.05},{"m":147,"v":-0.075},{"m":148,"v":-0.07},{"m":149,"v":-0.09},{"m":151,"v":-0.08},{"m":153,"v":-0.085},{"m":155,"v":-0.07},{"m":157,"v":-0.08},{"m":159,"v":-0.06},{"m":160,"v":-0.08},{"m":162,"v":-0.075},{"m":164,"v":-0.08},{"m":166,"v":-0.085},{"m":168,"v":-0.06},{"m":169,"v":-0.08},{"m":171,"v":-0.075},{"m":173,"v":-0.085},{"m":175,"v":-0.08},{"m":177,"v":-0.09},{"m":179,"v":-0.085},{"m":181,"v":-0.09},{"m":183,"v":-0.085},{"m":185,"v":-0.08},{"m":187,"v":-0.09},{"m":189,"v":-0.085},{"m":191,"v":-0.08},{"m":193,"v":-0.085},{"m":195,"v":-0.07},{"m":197,"v":-0.045},{"m":198,"v":-0.075},{"m":200,"v":-0.08},{"m":202,"v":-0.09},{"m":204,"v":-0.075},{"m":206,"v":-0.085},{"m":208,"v":-0.09},{"m":210,"v":-0.08},{"m":212,"v":-0.1},{"m":214,"v":-0.085},{"m":216,"v":-0.11},{"m":217,"v":-0.09},{"m":219,"v":-0.12},{"m":220,"v":-0.085},{"m":222,"v":-0.1},{"m":224,"v":-0.08},{"m":226,"v":-0.115},{"m":227,"v":-0.09},{"m":229,"v":-0.07},{"m":230,"v":-0.095},{"m":232,"v":-0.09},{"m":234,"v":-0.06},{"m":235,"v":-0.095},{"m":237,"v":-0.085},{"m":238,"v":-0.12},{"m":239,"v":-0.09},{"m":241,"v":-0.1},{"m":243,"v":-0.08},{"m":245,"v":-0.095},{"m":247,"v":-0.085},{"m":249,"v":-0.1},{"m":250,"v":-0.085}],
"ipeu":[{"m":0,"v":-0.01},{"m":2,"v":-0.015},{"m":4,"v":-0.02},{"m":6,"v":-0.015},{"m":8,"v":-0.02},{"m":10,"v":-0.025},{"m":12,"v":-0.02},{"m":14,"v":-0.03},{"m":16,"v":-0.025},{"m":18,"v":-0.035},{"m":19,"v":-0.06},{"m":20,"v":-0.03},{"m":22,"v":-0.04},{"m":24,"v":-0.03},{"m":26,"v":-0.035},{"m":28,"v":-0.03},{"m":30,"v":-0.04},{"m":32,"v":-0.035},{"m":33,"v":-0.045},{"m":34,"v":-0.03},{"m":36,"v":-0.035},{"m":38,"v":-0.025},{"m":40,"v":-0.03},{"m":42,"v":-0.02},{"m":44,"v":-0.025},{"m":46,"v":-0.02},{"m":48,"v":-0.015},{"m":50,"v":-0.02},{"m":52,"v":-0.015},{"m":54,"v":-0.025},{"m":55,"v":-0.035},{"m":56,"v":-0.06},{"m":57,"v":-0.025},{"m":59,"v":-0.03},{"m":61,"v":-0.02},{"m":63,"v":-0.015},{"m":65,"v":-0.01},{"m":67,"v":-0.005},{"m":69,"v":-0.015},{"m":71,"v":0.0},{"m":73,"v":0.01},{"m":74,"v":-0.005},{"m":76,"v":-0.01},{"m":78,"v":-0.02},{"m":80,"v":-0.015},{"m":82,"v":-0.02},{"m":84,"v":-0.03},{"m":86,"v":-0.025},{"m":88,"v":-0.02},{"m":90,"v":-0.01},{"m":92,"v":-0.015},{"m":94,"v":-0.02},{"m":96,"v":-0.01},{"m":98,"v":-0.02},{"m":100,"v":-0.015},{"m":102,"v":-0.02},{"m":103,"v":-0.05},{"m":104,"v":-0.235},{"m":105,"v":-0.04},{"m":106,"v":-0.1},{"m":107,"v":-0.06},{"m":108,"v":-0.12},{"m":109,"v":-0.045},{"m":110,"v":-0.075},{"m":112,"v":-0.05},{"m":114,"v":-0.06},{"m":116,"v":-0.045},{"m":118,"v":-0.05},{"m":120,"v":-0.04},{"m":122,"v":-0.035},{"m":124,"v":-0.03},{"m":126,"v":-0.02},{"m":128,"v":-0.01},{"m":130,"v":-0.005},{"m":132,"v":0.0},{"m":134,"v":-0.01},{"m":135,"v":0.01},{"m":136,"v":-0.02},{"m":137,"v":0.0},{"m":138,"v":-0.03},{"m":139,"v":0.015},{"m":140,"v":-0.065},{"m":141,"v":-0.005},{"m":142,"v":-0.03},{"m":143,"v":0.005},{"m":145,"v":-0.02},{"m":147,"v":-0.03},{"m":149,"v":-0.025},{"m":151,"v":-0.03},{"m":153,"v":-0.02},{"m":155,"v":-0.015},{"m":157,"v":-0.01},{"m":159,"v":-0.005},{"m":160,"v":0.04},{"m":161,"v":0.0},{"m":162,"v":0.02},{"m":163,"v":-0.005},{"m":165,"v":0.01},{"m":167,"v":0.005},{"m":169,"v":0.01},{"m":171,"v":0.0},{"m":173,"v":0.01},{"m":175,"v":0.005},{"m":177,"v":0.0},{"m":179,"v":0.005},{"m":181,"v":-0.005},{"m":183,"v":0.0},{"m":185,"v":-0.01},{"m":187,"v":0.005},{"m":189,"v":-0.005},{"m":191,"v":0.0},{"m":193,"v":-0.01},{"m":195,"v":-0.005},{"m":197,"v":-0.01},{"m":199,"v":-0.015},{"m":201,"v":-0.01},{"m":203,"v":-0.02},{"m":205,"v":-0.015},{"m":207,"v":-0.025},{"m":209,"v":-0.02},{"m":211,"v":-0.03},{"m":213,"v":-0.02},{"m":215,"v":-0.025},{"m":217,"v":-0.015},{"m":219,"v":-0.03},{"m":221,"v":-0.02},{"m":223,"v":-0.01},{"m":225,"v":-0.03},{"m":227,"v":-0.02},{"m":229,"v":-0.04},{"m":230,"v":-0.01},{"m":231,"v":0.02},{"m":232,"v":-0.015},{"m":233,"v":0.015},{"m":234,"v":-0.03},{"m":236,"v":-0.01},{"m":238,"v":-0.02},{"m":240,"v":-0.01},{"m":242,"v":0.0},{"m":244,"v":-0.01},{"m":246,"v":-0.005},{"m":248,"v":0.01},{"m":249,"v":0.02},{"m":250,"v":0.0}],
"ipcn":[{"m":0,"v":-0.04},{"m":1,"v":-0.05},{"m":2,"v":-0.075},{"m":3,"v":-0.06},{"m":4,"v":-0.07},{"m":5,"v":-0.055},{"m":7,"v":-0.06},{"m":9,"v":-0.055},{"m":11,"v":-0.055},{"m":13,"v":-0.06},{"m":15,"v":-0.055},{"m":17,"v":-0.065},{"m":18,"v":-0.08},{"m":19,"v":-0.06},{"m":21,"v":-0.045},{"m":22,"v":-0.06},{"m":24,"v":-0.05},{"m":25,"v":-0.065},{"m":26,"v":-0.055},{"m":28,"v":-0.07},{"m":29,"v":-0.06},{"m":30,"v":-0.045},{"m":31,"v":-0.065},{"m":32,"v":-0.09},{"m":33,"v":-0.06},{"m":34,"v":-0.075},{"m":35,"v":-0.05},{"m":36,"v":-0.07},{"m":37,"v":-0.065},{"m":38,"v":-0.085},{"m":39,"v":-0.093},{"m":40,"v":-0.065},{"m":42,"v":-0.06},{"m":44,"v":-0.07},{"m":46,"v":-0.065},{"m":48,"v":-0.06},{"m":50,"v":-0.065},{"m":52,"v":-0.06},{"m":54,"v":-0.07},{"m":55,"v":-0.065},{"m":56,"v":-0.093},{"m":57,"v":-0.07},{"m":58,"v":-0.085},{"m":59,"v":-0.065},{"m":60,"v":-0.075},{"m":62,"v":-0.055},{"m":63,"v":-0.065},{"m":64,"v":-0.045},{"m":66,"v":-0.06},{"m":67,"v":-0.05},{"m":68,"v":-0.06},{"m":69,"v":-0.045},{"m":70,"v":-0.055},{"m":72,"v":-0.04},{"m":73,"v":-0.06},{"m":74,"v":-0.05},{"m":76,"v":-0.055},{"m":78,"v":-0.045},{"m":80,"v":-0.06},{"m":81,"v":-0.098},{"m":82,"v":-0.065},{"m":84,"v":-0.05},{"m":85,"v":-0.06},{"m":87,"v":-0.045},{"m":89,"v":-0.032},{"m":90,"v":-0.055},{"m":92,"v":-0.05},{"m":93,"v":-0.032},{"m":94,"v":-0.055},{"m":96,"v":-0.065},{"m":98,"v":-0.06},{"m":100,"v":-0.07},{"m":102,"v":-0.06},{"m":104,"v":-0.065},{"m":106,"v":-0.06},{"m":108,"v":-0.05},{"m":110,"v":-0.058},{"m":111,"v":-0.045},{"m":112,"v":-0.06},{"m":114,"v":-0.055},{"m":116,"v":-0.065},{"m":117,"v":-0.05},{"m":119,"v":-0.06},{"m":120,"v":-0.08},{"m":121,"v":-0.05},{"m":123,"v":-0.055},{"m":125,"v":-0.05},{"m":127,"v":-0.045},{"m":129,"v":-0.05},{"m":130,"v":-0.04},{"m":132,"v":-0.04},{"m":134,"v":-0.05},{"m":136,"v":-0.045},{"m":137,"v":-0.055},{"m":139,"v":-0.05},{"m":140,"v":-0.075},{"m":141,"v":-0.14},{"m":142,"v":-0.07},{"m":143,"v":-0.085},{"m":144,"v":-0.07},{"m":146,"v":-0.075},{"m":147,"v":-0.095},{"m":148,"v":-0.07},{"m":150,"v":-0.065},{"m":152,"v":-0.07},{"m":154,"v":-0.06},{"m":156,"v":-0.065},{"m":158,"v":-0.06},{"m":160,"v":-0.055},{"m":161,"v":-0.015},{"m":162,"v":-0.055},{"m":163,"v":-0.045},{"m":165,"v":-0.03},{"m":166,"v":-0.06},{"m":168,"v":-0.075},{"m":169,"v":-0.04},{"m":170,"v":-0.01},{"m":171,"v":-0.035},{"m":172,"v":-0.02},{"m":174,"v":-0.03},{"m":176,"v":-0.025},{"m":178,"v":-0.035},{"m":180,"v":-0.03},{"m":182,"v":-0.04},{"m":184,"v":-0.035},{"m":186,"v":-0.045},{"m":188,"v":-0.04},{"m":190,"v":-0.05},{"m":192,"v":-0.045},{"m":194,"v":-0.05},{"m":196,"v":-0.045},{"m":198,"v":-0.05},{"m":200,"v":-0.045},{"m":202,"v":-0.05},{"m":204,"v":-0.045},{"m":206,"v":-0.05},{"m":208,"v":-0.055},{"m":210,"v":-0.05},{"m":212,"v":-0.06},{"m":213,"v":-0.075},{"m":214,"v":-0.055},{"m":215,"v":-0.075},{"m":217,"v":-0.05},{"m":219,"v":-0.055},{"m":221,"v":-0.045},{"m":223,"v":-0.06},{"m":225,"v":-0.04},{"m":226,"v":-0.065},{"m":228,"v":-0.035},{"m":229,"v":-0.06},{"m":231,"v":-0.05},{"m":233,"v":-0.065},{"m":235,"v":-0.05},{"m":237,"v":-0.07},{"m":238,"v":-0.05},{"m":240,"v":-0.06},{"m":242,"v":-0.055},{"m":244,"v":-0.045},{"m":246,"v":-0.065},{"m":248,"v":-0.05},{"m":250,"v":-0.06}]
},
"columns":3,
"bounds":"flush",
"spacing":{"row":44,"column":74},
"concat":[
{"title":"Stock Price, Uncertainty US","width":239,"height":109,"resolve":{"axis":{"x":"independent","y":"independent"}},"layer":[
 {"data":{"name":"rec"},"mark":"rect","encoding":{"x":{"field":"a","type":"quantitative","scale":{"domain":[0,251],"nice":false,"zero":false},"axis":{"orient":"bottom","title":null,"values":[0,24,48,72,96,120,144,168,192,216,240],"labelExpr":"slice('0' + ((97 + datum.value / 12) % 100), -2)","labelPadding":11}},"x2":{"field":"b"},"y":{"datum":-0.3,"type":"quantitative","scale":{"domain":[-0.3,0],"nice":false,"zero":false},"axis":{"orient":"right","title":null,"values":[-0.3,-0.2,-0.1,0],"labels":false}},"y2":{"datum":0}}},
 {"data":{"name":"spus"},"mark":"line","encoding":{"x":{"field":"m","type":"quantitative","scale":{"domain":[0,251],"nice":false,"zero":false},"axis":{"orient":"top","title":null,"values":[0,24,48,72,96,120,144,168,192,216,240],"labels":false}},"y":{"field":"v","type":"quantitative","scale":{"domain":[-0.3,0],"nice":false,"zero":false},"axis":{"orient":"left","title":null,"values":[-0.3,-0.2,-0.1,0],"format":"~g","labelPadding":9}}}}
]},
{"title":"Stock Price, Uncertainty Canada","width":239,"height":109,"resolve":{"axis":{"x":"independent","y":"independent"}},"layer":[
 {"data":{"name":"rec"},"mark":"rect","encoding":{"x":{"field":"a","type":"quantitative","scale":{"domain":[0,251],"nice":false,"zero":false},"axis":{"orient":"bottom","title":null,"values":[0,24,48,72,96,120,144,168,192,216,240],"labelExpr":"slice('0' + ((97 + datum.value / 12) % 100), -2)","labelPadding":11}},"x2":{"field":"b"},"y":{"datum":-0.4,"type":"quantitative","scale":{"domain":[-0.4,-0.1],"nice":false,"zero":false},"axis":{"orient":"right","title":null,"values":[-0.4,-0.3,-0.2,-0.1],"labels":false}},"y2":{"datum":-0.1}}},
 {"data":{"name":"spca"},"mark":"line","encoding":{"x":{"field":"m","type":"quantitative","scale":{"domain":[0,251],"nice":false,"zero":false},"axis":{"orient":"top","title":null,"values":[0,24,48,72,96,120,144,168,192,216,240],"labels":false}},"y":{"field":"v","type":"quantitative","scale":{"domain":[-0.4,-0.1],"nice":false,"zero":false},"axis":{"orient":"left","title":null,"values":[-0.4,-0.3,-0.2,-0.1],"format":"~g","labelPadding":9}}}}
]},
{"title":"Stock Price, Uncertainty UK","width":239,"height":109,"resolve":{"axis":{"x":"independent","y":"independent"}},"layer":[
 {"data":{"name":"rec"},"mark":"rect","encoding":{"x":{"field":"a","type":"quantitative","scale":{"domain":[0,251],"nice":false,"zero":false},"axis":{"orient":"bottom","title":null,"values":[0,24,48,72,96,120,144,168,192,216,240],"labelExpr":"slice('0' + ((97 + datum.value / 12) % 100), -2)","labelPadding":11}},"x2":{"field":"b"},"y":{"datum":-0.4,"type":"quantitative","scale":{"domain":[-0.4,-0.1],"nice":false,"zero":false},"axis":{"orient":"right","title":null,"values":[-0.4,-0.3,-0.2,-0.1],"labels":false}},"y2":{"datum":-0.1}}},
 {"data":{"name":"spuk"},"mark":"line","encoding":{"x":{"field":"m","type":"quantitative","scale":{"domain":[0,251],"nice":false,"zero":false},"axis":{"orient":"top","title":null,"values":[0,24,48,72,96,120,144,168,192,216,240],"labels":false}},"y":{"field":"v","type":"quantitative","scale":{"domain":[-0.4,-0.1],"nice":false,"zero":false},"axis":{"orient":"left","title":null,"values":[-0.4,-0.3,-0.2,-0.1],"format":"~g","labelPadding":9}}}}
]},
{"title":"Stock Price, Uncertainty EU","width":239,"height":109,"resolve":{"axis":{"x":"independent","y":"independent"}},"layer":[
 {"data":{"name":"rec"},"mark":"rect","encoding":{"x":{"field":"a","type":"quantitative","scale":{"domain":[0,251],"nice":false,"zero":false},"axis":{"orient":"bottom","title":null,"values":[0,24,48,72,96,120,144,168,192,216,240],"labelExpr":"slice('0' + ((97 + datum.value / 12) % 100), -2)","labelPadding":11}},"x2":{"field":"b"},"y":{"datum":-0.3,"type":"quantitative","scale":{"domain":[-0.3,-0.1],"nice":false,"zero":false},"axis":{"orient":"right","title":null,"values":[-0.3,-0.2,-0.1],"labels":false}},"y2":{"datum":-0.1}}},
 {"data":{"name":"speu"},"mark":"line","encoding":{"x":{"field":"m","type":"quantitative","scale":{"domain":[0,251],"nice":false,"zero":false},"axis":{"orient":"top","title":null,"values":[0,24,48,72,96,120,144,168,192,216,240],"labels":false}},"y":{"field":"v","type":"quantitative","scale":{"domain":[-0.3,-0.1],"nice":false,"zero":false},"axis":{"orient":"left","title":null,"values":[-0.3,-0.2,-0.1],"format":"~g","labelPadding":9}}}}
]},
{"title":"Stock Price, Uncertainty China","width":239,"height":109,"resolve":{"axis":{"x":"independent","y":"independent"}},"layer":[
 {"data":{"name":"rec"},"mark":"rect","encoding":{"x":{"field":"a","type":"quantitative","scale":{"domain":[0,251],"nice":false,"zero":false},"axis":{"orient":"bottom","title":null,"values":[0,24,48,72,96,120,144,168,192,216,240],"labelExpr":"slice('0' + ((97 + datum.value / 12) % 100), -2)","labelPadding":11}},"x2":{"field":"b"},"y":{"datum":-0.3,"type":"quantitative","scale":{"domain":[-0.3,0],"nice":false,"zero":false},"axis":{"orient":"right","title":null,"values":[-0.3,-0.2,-0.1,0],"labels":false}},"y2":{"datum":0}}},
 {"data":{"name":"spcn"},"mark":"line","encoding":{"x":{"field":"m","type":"quantitative","scale":{"domain":[0,251],"nice":false,"zero":false},"axis":{"orient":"top","title":null,"values":[0,24,48,72,96,120,144,168,192,216,240],"labels":false}},"y":{"field":"v","type":"quantitative","scale":{"domain":[-0.3,0],"nice":false,"zero":false},"axis":{"orient":"left","title":null,"values":[-0.3,-0.2,-0.1,0],"format":"~g","labelPadding":9}}}}
]},
{"width":239,"height":109,"data":{"values":[]},"mark":"point"},
{"title":"Industrial Production, Uncertainty US","width":239,"height":109,"resolve":{"axis":{"x":"independent","y":"independent"}},"layer":[
 {"data":{"name":"rec"},"mark":"rect","encoding":{"x":{"field":"a","type":"quantitative","scale":{"domain":[0,251],"nice":false,"zero":false},"axis":{"orient":"bottom","title":null,"values":[0,24,48,72,96,120,144,168,192,216,240],"labelExpr":"slice('0' + ((97 + datum.value / 12) % 100), -2)","labelPadding":11}},"x2":{"field":"b"},"y":{"datum":-0.3,"type":"quantitative","scale":{"domain":[-0.3,0],"nice":false,"zero":false},"axis":{"orient":"right","title":null,"values":[-0.3,-0.2,-0.1,0],"labels":false}},"y2":{"datum":0}}},
 {"data":{"name":"ipus"},"mark":"line","encoding":{"x":{"field":"m","type":"quantitative","scale":{"domain":[0,251],"nice":false,"zero":false},"axis":{"orient":"top","title":null,"values":[0,24,48,72,96,120,144,168,192,216,240],"labels":false}},"y":{"field":"v","type":"quantitative","scale":{"domain":[-0.3,0],"nice":false,"zero":false},"axis":{"orient":"left","title":null,"values":[-0.3,-0.2,-0.1,0],"format":"~g","labelPadding":9}}}}
]},
{"title":"Industrial Production, Uncertainty Canada","width":239,"height":109,"resolve":{"axis":{"x":"independent","y":"independent"}},"layer":[
 {"data":{"name":"rec"},"mark":"rect","encoding":{"x":{"field":"a","type":"quantitative","scale":{"domain":[0,251],"nice":false,"zero":false},"axis":{"orient":"bottom","title":null,"values":[0,24,48,72,96,120,144,168,192,216,240],"labelExpr":"slice('0' + ((97 + datum.value / 12) % 100), -2)","labelPadding":11}},"x2":{"field":"b"},"y":{"datum":-0.2,"type":"quantitative","scale":{"domain":[-0.2,0],"nice":false,"zero":false},"axis":{"orient":"right","title":null,"values":[-0.2,-0.1,0],"labels":false}},"y2":{"datum":0}}},
 {"data":{"name":"ipca"},"mark":"line","encoding":{"x":{"field":"m","type":"quantitative","scale":{"domain":[0,251],"nice":false,"zero":false},"axis":{"orient":"top","title":null,"values":[0,24,48,72,96,120,144,168,192,216,240],"labels":false}},"y":{"field":"v","type":"quantitative","scale":{"domain":[-0.2,0],"nice":false,"zero":false},"axis":{"orient":"left","title":null,"values":[-0.2,-0.1,0],"format":"~g","labelPadding":9}}}}
]},
{"title":"Industrial Production, Uncertainty UK","width":239,"height":109,"resolve":{"axis":{"x":"independent","y":"independent"}},"layer":[
 {"data":{"name":"rec"},"mark":"rect","encoding":{"x":{"field":"a","type":"quantitative","scale":{"domain":[0,251],"nice":false,"zero":false},"axis":{"orient":"bottom","title":null,"values":[0,24,48,72,96,120,144,168,192,216,240],"labelExpr":"slice('0' + ((97 + datum.value / 12) % 100), -2)","labelPadding":11}},"x2":{"field":"b"},"y":{"datum":-0.3,"type":"quantitative","scale":{"domain":[-0.3,0],"nice":false,"zero":false},"axis":{"orient":"right","title":null,"values":[-0.3,-0.2,-0.1,0],"labels":false}},"y2":{"datum":0}}},
 {"data":{"name":"ipuk"},"mark":"line","encoding":{"x":{"field":"m","type":"quantitative","scale":{"domain":[0,251],"nice":false,"zero":false},"axis":{"orient":"top","title":null,"values":[0,24,48,72,96,120,144,168,192,216,240],"labels":false}},"y":{"field":"v","type":"quantitative","scale":{"domain":[-0.3,0],"nice":false,"zero":false},"axis":{"orient":"left","title":null,"values":[-0.3,-0.2,-0.1,0],"format":"~g","labelPadding":9}}}}
]},
{"title":"Industrial Production, Uncertainty EU","width":239,"height":109,"resolve":{"axis":{"x":"independent","y":"independent"}},"layer":[
 {"data":{"name":"rec"},"mark":"rect","encoding":{"x":{"field":"a","type":"quantitative","scale":{"domain":[0,251],"nice":false,"zero":false},"axis":{"orient":"bottom","title":null,"values":[0,24,48,72,96,120,144,168,192,216,240],"labelExpr":"slice('0' + ((97 + datum.value / 12) % 100), -2)","labelPadding":11}},"x2":{"field":"b"},"y":{"datum":-0.4,"type":"quantitative","scale":{"domain":[-0.4,0.2],"nice":false,"zero":false},"axis":{"orient":"right","title":null,"values":[-0.4,-0.2,0,0.2],"labels":false}},"y2":{"datum":0.2}}},
 {"data":{"name":"ipeu"},"mark":"line","encoding":{"x":{"field":"m","type":"quantitative","scale":{"domain":[0,251],"nice":false,"zero":false},"axis":{"orient":"top","title":null,"values":[0,24,48,72,96,120,144,168,192,216,240],"labels":false}},"y":{"field":"v","type":"quantitative","scale":{"domain":[-0.4,0.2],"nice":false,"zero":false},"axis":{"orient":"left","title":null,"values":[-0.4,-0.2,0,0.2],"format":"~g","labelPadding":9}}}}
]},
{"title":"Industrial Production, Uncertainty China","width":239,"height":109,"resolve":{"axis":{"x":"independent","y":"independent"}},"layer":[
 {"data":{"name":"rec"},"mark":"rect","encoding":{"x":{"field":"a","type":"quantitative","scale":{"domain":[0,251],"nice":false,"zero":false},"axis":{"orient":"bottom","title":null,"values":[0,24,48,72,96,120,144,168,192,216,240],"labelExpr":"slice('0' + ((97 + datum.value / 12) % 100), -2)","labelPadding":11}},"x2":{"field":"b"},"y":{"datum":-0.15,"type":"quantitative","scale":{"domain":[-0.15,0],"nice":false,"zero":false},"axis":{"orient":"right","title":null,"values":[-0.15,-0.1,-0.05,0],"labels":false}},"y2":{"datum":0}}},
 {"data":{"name":"ipcn"},"mark":"line","encoding":{"x":{"field":"m","type":"quantitative","scale":{"domain":[0,251],"nice":false,"zero":false},"axis":{"orient":"top","title":null,"values":[0,24,48,72,96,120,144,168,192,216,240],"labels":false}},"y":{"field":"v","type":"quantitative","scale":{"domain":[-0.15,0],"nice":false,"zero":false},"axis":{"orient":"left","title":null,"values":[-0.15,-0.1,-0.05,0],"format":"~g","labelPadding":9}}}}
]}
]
}
